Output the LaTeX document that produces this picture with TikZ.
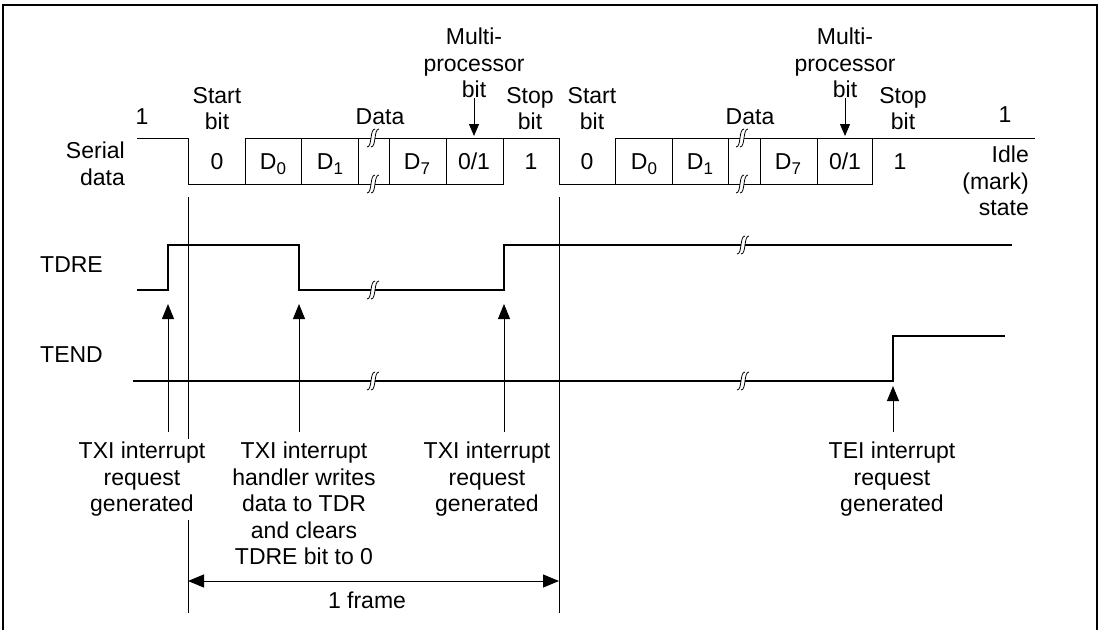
\documentclass[tikz,border=0pt]{standalone}
\usepackage{fontspec}
\setmainfont{Liberation Sans}
\usetikzlibrary{arrows.meta}
\newcommand{\Dn}[1]{D\raisebox{-5pt}{\fontsize{17}{17}\selectfont #1}}
\tikzset{brk/.pic={
  \fill[white] (-2,-2.5) rectangle (2,2.5);
  \draw[line width=0.8pt] (2,-9) .. controls (-3.5,-9) and (-0.5,9) .. (-6,9);
  \draw[line width=0.8pt] (6,-9) .. controls (0.5,-9) and (3.5,9) .. (-2,9);
}}

\begin{document}
\begin{tikzpicture}[x=1pt,y=-1pt,
  every node/.style={font=\fontsize{23}{26.5}\selectfont,inner sep=0pt},
  sig/.style={line width=1pt},
  lvl/.style={line width=1.5pt},
  bound/.style={line width=0.8pt},
  irq/.style={-{Triangle[width=12pt,length=15pt]},line width=1pt},
  lbl/.style={anchor=south,align=center},
  cell/.style={anchor=base},
  txt/.style={anchor=north,align=center}]
\useasboundingbox (0,0) rectangle (1100,630);
\draw[line width=1.3pt] (3,630) -- (3,5) -- (1097,5) -- (1097,630);

% serial data
\draw[sig] (137,138) -- (188,138) -- (188,184) -- (503,184) -- (503,138);
\draw[sig] (245,184) -- (245,138) -- (559,138) -- (559,184) -- (872,184) -- (872,138);
\draw[sig] (615,184) -- (615,138) -- (1035,138);
\draw[sig] (301,138) -- (301,184) (358,138) -- (358,184) (389,138) -- (389,184) (446,138) -- (446,184);
\draw[sig] (672,138) -- (672,184) (728,138) -- (728,184) (760,138) -- (760,184) (817,138) -- (817,184);
\pic at (373,138) {brk}; \pic at (373,184) {brk};
\pic at (742,138) {brk}; \pic at (742,184) {brk};

\node[anchor=north east,align=right] (serial) at (125,142) {Serial\\data};
\node[anchor=north east,align=right] (idle) at (1029,146) {Idle\\(mark)\\state};
\node[lbl] (oneA) at (142,125) {1};
\node[lbl] (oneB) at (1005,123) {1};
\node[lbl] (startA) at (217,130) {Start\\bit};
\node[lbl] (startB) at (592,130) {Start\\bit};
\node[lbl] (dataA) at (380,125) {Data};
\node[lbl] (dataB) at (750,125) {Data};
\node[lbl] (mpA) at (474,98) {Multi-\\processor\\bit};
\node[lbl] (mpB) at (845,98) {Multi-\\processor\\bit};
\node[lbl] (stopA) at (530,130) {Stop\\bit};
\node[lbl] (stopB) at (903,130) {Stop\\bit};
\coordinate (mpA-tip) at (474,136);
\coordinate (mpB-tip) at (845,136);
\draw[-{Triangle[width=10pt,length=12pt]},line width=1pt] (mpA) -- (mpA-tip);
\draw[-{Triangle[width=10pt,length=12pt]},line width=1pt] (mpB) -- (mpB-tip);

\node[cell] (zA) at (217,169) {0};
\node[cell] (d0A) at (273,169) {\Dn{0}};
\node[cell] (d1A) at (330,169) {\Dn{1}};
\node[cell] (d7A) at (417,169) {\Dn{7}};
\node[cell] (pA) at (474,169) {0/1};
\node[cell] (sA) at (531,169) {1};
\node[cell] (zB) at (587,169) {0};
\node[cell] (d0B) at (644,169) {\Dn{0}};
\node[cell] (d1B) at (700,169) {\Dn{1}};
\node[cell] (d7B) at (788,169) {\Dn{7}};
\node[cell] (pB) at (845,169) {0/1};
\node[cell] (sB) at (900,169) {1};

% TDRE and TEND
\node[anchor=west] (tdre) at (40,265) {TDRE};
\node[anchor=west] (tend) at (40,355) {TEND};
\draw[lvl] (137,290) -- (168,290) -- (168,245) -- (299,245) -- (299,290) -- (504,290) -- (504,245) -- (1012,245);
\draw[lvl] (133,381) -- (893,381) -- (893,336) -- (1005,336);
\pic at (373,290) {brk}; \pic at (743,245) {brk};
\pic at (373,381) {brk}; \pic at (743,381) {brk};

% frame boundaries
\coordinate (fA-top) at (188,197);
\coordinate (fA-bot) at (188,613);
\coordinate (fB-top) at (559,197);
\coordinate (fB-bot) at (559,613);
\draw[bound] (fA-top) -- (fA-bot);
\draw[bound] (fB-top) -- (fB-bot);
\coordinate (fA) at (188,581);
\coordinate (fB) at (559,581);
\draw[{Triangle[width=13pt,length=16pt]}-{Triangle[width=13pt,length=16pt]},line width=1pt] (fA) -- (fB);
\node (frame) at (367,600) {1 frame};

% interrupt labels
\node[txt,fill=white,inner ysep=3pt] (txiA) at (142,439) {TXI interrupt\\request\\generated};
\node[txt] (txiB) at (304,442) {TXI interrupt\\handler writes\\data to TDR\\and clears\\TDRE bit to 0};
\node[txt] (txiC) at (487,442) {TXI interrupt\\request\\generated};
\node[txt] (tei) at (892,442) {TEI interrupt\\request\\generated};
\coordinate (txiA-tip) at (168,304);
\coordinate (txiB-tip) at (299,304);
\coordinate (txiC-tip) at (504,304);
\coordinate (tei-tip) at (893,386);
\draw[irq] (168,432) -- (txiA-tip);
\draw[irq] (299,432) -- (txiB-tip);
\draw[irq] (504,432) -- (txiC-tip);
\draw[irq] (893,432) -- (tei-tip);
\end{tikzpicture}
\end{document}
